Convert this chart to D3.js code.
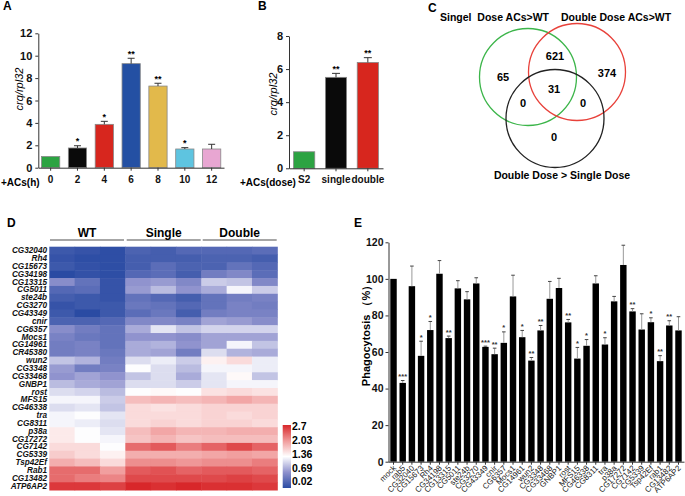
<!DOCTYPE html>
<html><head><meta charset="utf-8">
<script src="https://cdn.jsdelivr.net/npm/d3@7/dist/d3.min.js"></script>
<style>
body{margin:0;background:#fff;}
svg{display:block;font-family:"Liberation Sans Narrow","Liberation Sans",Arial,sans-serif;}
.wide{font-family:"Liberation Sans",Arial,sans-serif;}
</style></head><body><svg id="c" width="685" height="496"></svg>
<script>
// ---------- DATA ----------
const catsA = ["0","2","4","6","8","10","12"];
const valsA = [1.0,1.76,3.87,9.29,7.29,1.67,1.67];
const errA  = [0,0.2,0.27,0.48,0.25,0.12,0.42];
const sigA  = ["","*","*","**","**","*",""];
const colorsA = ["#2ca342","#0a0a0a","#d7261e","#2450a3","#e2b94b","#5ec4e0","#e8a6d2"];
const ticksA = [0,2,4,6,8,10,12];

const catsB = ["S2","single","double"];
const valsB = [1.0,5.5,6.4];
const errB  = [0,0.24,0.29];
const sigB  = ["","**","**"];
const colorsB = ["#2ca342","#0a0a0a","#d7261e"];
const ticksB = [0,2,4,6,8];

const vennSets = ["Singel  Dose ACs>WT","Double Dose ACs>WT","Double Dose > Single Dose"];
const vennColors = ["#3cb54a","#e8413a","#222222"];
const vennRegions = ["65","621","374","31","0","0","0"];

const genes = ["CG32040","Rh4","CG15673","CG34198","CG13315","CG5011","ste24b","CG3270","CG43349","cnir","CG6357","Mocs1","CG14961","CR45380","wun2","CG3348","CG33468","GNBP1","rost","MFS15","CG46338","tra","CG8311","p38a","CG17272","CG7142","CG5339","Tsp42Ef","Rab1","CG13482","ATP6AP2"];
const groups = ["WT","Single","Double"];
const heatWT = [[0.15,0.1,0.05],[0.1,0.05,0.05],[0.15,0.08,0.05],[0.02,0.08,0.05],[0.65,0.4,0.1],[0.3,0.35,0.1],[0.2,0.15,0.1],[0.1,0.15,0.15],[0.15,0.02,0.15],[0.25,0.25,0.3],[0.65,0.5,0.4],[0.55,0.45,0.4],[0.5,0.55,0.4],[0.5,0.55,0.45],[1.0,0.9,0.5],[0.75,0.5,0.55],[0.7,0.8,0.7],[0.95,0.85,0.8],[1.15,1.1,0.95],[1.3,1.3,1.05],[1.15,1.2,1.0],[1.3,1.35,1.2],[1.3,1.25,1.15],[1.5,1.35,1.2],[1.5,1.35,1.3],[1.6,1.6,1.35],[1.7,1.6,1.45],[1.9,1.8,1.6],[2.3,2.3,2.0],[2.3,2.2,2.15],[2.6,2.6,2.55]];
const heatSingle = [[0.25,0.2,0.3],[0.2,0.2,0.2],[0.2,0.35,0.25],[0.3,0.35,0.2],[0.7,0.75,0.6],[0.75,0.95,0.7],[0.4,0.3,0.2],[0.45,0.4,0.3],[0.35,0.45,0.2],[0.6,0.6,0.55],[0.85,1.2,1.0],[0.7,0.7,0.65],[0.85,0.9,0.7],[0.85,0.8,0.5],[1.15,1.25,1.05],[1.35,1.15,0.95],[1.0,1.15,0.85],[1.15,1.15,1.05],[1.35,1.4,1.35],[1.8,1.85,1.8],[1.6,1.55,1.6],[1.6,1.6,1.6],[1.6,1.65,1.6],[1.8,1.95,1.85],[1.75,1.85,1.75],[2.3,2.4,2.2],[1.9,1.9,1.9],[2.1,2.1,2.05],[2.4,2.45,2.35],[2.5,2.5,2.5],[2.7,2.65,2.7]];
const heatDouble = [[0.3,0.3,0.35],[0.25,0.25,0.2],[0.25,0.4,0.3],[0.5,0.6,0.35],[1.05,1.0,0.6],[0.85,1.3,1.05],[0.4,0.5,0.55],[0.4,0.55,0.5],[0.5,0.55,0.55],[0.8,0.75,0.65],[1.1,1.1,1.1],[0.8,0.8,0.8],[0.8,1.3,1.0],[1.15,0.9,0.85],[1.45,1.6,1.25],[1.3,1.3,1.25],[1.2,1.4,1.0],[1.2,1.3,1.3],[1.55,1.6,1.55],[1.85,1.95,1.85],[1.65,1.65,1.65],[1.65,1.6,1.65],[1.65,1.65,1.6],[1.85,1.9,1.9],[1.8,1.8,1.8],[2.35,2.5,2.35],[1.95,2.0,1.95],[2.1,2.1,2.2],[2.4,2.4,2.35],[2.5,2.55,2.5],[2.65,2.65,2.6]];
const colorbarTicks = ["2.7","2.03","1.36","0.69","0.02"];

const catsE = ["mock","rab5","CG32040","CG15673","Rh4","CG34198","CG13315","CG5011","ste24b","CG3270","CG43349","cnir","CG6357","Mocs1","CG14961","wun2","CG3348","CG33468","GNBP1","rost","MFS15","CG46338","CG8311","tra","p38a","CG17272","CG7142","CG5339","Tsp42Ef","rab1","CG13482","ATP6AP2"];
const valsE = [100,43.1,96,57.9,72,102.8,67.6,94.8,88.8,97.5,62.8,58.8,65,90.4,68.1,55.3,71.8,89.1,95,76.2,56.4,63.4,97.5,64.1,87.7,107.6,82.2,72.3,76.3,55,74.5,71.8];
const errTopE = [100,44.4,107,65.9,76.7,110,68.7,99,93,100.6,63.2,62.1,71,102,71.8,57,74.5,98.6,100.3,77.8,62.5,66.8,101.7,67.8,90.4,118.4,83.7,80.9,78.7,58,77.1,79.3];
const sigE = ["","***","","*","*","","**","","","","***","**","*","","*","**","**","","","**","*","*","","*","","","**","","*","**","**",""];
const ticksE = [0,20,40,60,80,100,120];

// ---------- DRAW ----------
const svg = d3.select("#c");

function panelLabel(t,x,y){ svg.append("text").attr("class","wide").attr("x",x).attr("y",y).attr("font-size",12).attr("font-weight","bold").text(t); }

function styleAxis(g,fs){
  g.selectAll("text").attr("font-size",fs).attr("font-weight","bold").attr("fill","#111");
  g.selectAll("path,line").attr("stroke","#333");
}

// Panel A
(function(){
  const y = d3.scaleLinear().domain([0,12]).range([167.7,33.3]);
  const x = d3.scaleBand().domain(catsA).range([38.3,224]).paddingInner(0.32).paddingOuter(0.12);
  const g = svg.append("g");
  g.selectAll("rect").data(catsA).join("rect")
    .attr("x",d=>x(d)).attr("width",x.bandwidth())
    .attr("y",(d,i)=>y(valsA[i])).attr("height",(d,i)=>y(0)-y(valsA[i]))
    .attr("fill",(d,i)=>colorsA[i]).attr("stroke","#888").attr("stroke-width",0.8);
  catsA.forEach((c,i)=>{
    if(errA[i]>0){
      const cx=x(c)+x.bandwidth()/2;
      g.append("line").attr("x1",cx).attr("x2",cx).attr("y1",y(valsA[i])).attr("y2",y(valsA[i]+errA[i])).attr("stroke","#333");
      g.append("line").attr("x1",cx-3.5).attr("x2",cx+3.5).attr("y1",y(valsA[i]+errA[i])).attr("y2",y(valsA[i]+errA[i])).attr("stroke","#333");
    }
    if(sigA[i]) g.append("text").attr("x",x(c)+x.bandwidth()/2).attr("y",y(valsA[i]+errA[i])-1.5).attr("text-anchor","middle").attr("font-size",9).attr("font-weight","bold").text(sigA[i]);
  });
  const ay = g.append("g").attr("transform","translate(38.3,0)").call(d3.axisLeft(y).tickValues(ticksA).tickSize(3).tickSizeOuter(0).tickFormat(d3.format("d")));
  styleAxis(ay,11);
  const ax = g.append("g").attr("transform","translate(0,167.7)").call(d3.axisBottom(x).tickSize(3).tickSizeOuter(0).tickPadding(5));
  styleAxis(ax,10);
  g.append("text").attr("x",1).attr("y",186).attr("font-size",10).attr("font-weight","bold").text("+ACs(h)");
  g.append("text").attr("transform","translate(23,89) rotate(-90)").attr("text-anchor","middle").attr("font-size",11).attr("font-style","italic").text("crq/rpl32");
  panelLabel("A",3,10);
})();

// Panel B
(function(){
  const y = d3.scaleLinear().domain([0,8]).range([168.3,36]);
  const x = d3.scaleBand().domain(catsB).range([289,383]).paddingInner(0.334).paddingOuter(0.143);
  const g = svg.append("g");
  g.selectAll("rect").data(catsB).join("rect")
    .attr("x",d=>x(d)).attr("width",x.bandwidth())
    .attr("y",(d,i)=>y(valsB[i])).attr("height",(d,i)=>y(0)-y(valsB[i]))
    .attr("fill",(d,i)=>colorsB[i]).attr("stroke","#888").attr("stroke-width",0.8);
  catsB.forEach((c,i)=>{
    if(errB[i]>0){
      const cx=x(c)+x.bandwidth()/2;
      g.append("line").attr("x1",cx).attr("x2",cx).attr("y1",y(valsB[i])).attr("y2",y(valsB[i]+errB[i])).attr("stroke","#333");
      g.append("line").attr("x1",cx-4).attr("x2",cx+4).attr("y1",y(valsB[i]+errB[i])).attr("y2",y(valsB[i]+errB[i])).attr("stroke","#333");
    }
    if(sigB[i]) g.append("text").attr("x",x(c)+x.bandwidth()/2).attr("y",y(valsB[i]+errB[i])-1.5).attr("text-anchor","middle").attr("font-size",9).attr("font-weight","bold").text(sigB[i]);
  });
  const ay = g.append("g").attr("transform","translate(289,0)").call(d3.axisLeft(y).tickValues(ticksB).tickSize(3).tickSizeOuter(0));
  styleAxis(ay,11);
  const ax = g.append("g").attr("transform","translate(0,168.3)").call(d3.axisBottom(x).tickSize(3).tickSizeOuter(0).tickPadding(5));
  styleAxis(ax,10);
  g.append("text").attr("x",240).attr("y",186).attr("font-size",10).attr("font-weight","bold").text("+ACs(dose)");
  g.append("text").attr("transform","translate(277,94) rotate(-90)").attr("text-anchor","middle").attr("font-size",11).attr("font-style","italic").text("crq/rpl32");
  panelLabel("B",258,10);
})();

// Panel C - Venn
(function(){
  const g = svg.append("g").attr("class","wide");
  const circles = [[528,77,48.5],[577,72,48.5],[555,118.5,49]];
  circles.forEach((c,i)=>g.append("circle").attr("cx",c[0]).attr("cy",c[1]).attr("r",c[2]).attr("fill","none").attr("stroke",vennColors[i]).attr("stroke-width",1.3));
  const pos = [[503,77],[555,56],[607,73],[554,89],[523,103],[583,103],[554,137]];
  vennRegions.forEach((t,i)=>g.append("text").attr("x",pos[i][0]).attr("y",pos[i][1]).attr("dy","0.35em").attr("text-anchor","middle").attr("font-size",11).attr("font-weight","bold").text(t));
  g.append("text").attr("x",440).attr("y",21).attr("font-size",10.5).attr("font-weight","bold").style("white-space","pre").text(vennSets[0]);
  g.append("text").attr("x",561).attr("y",21).attr("font-size",10.5).attr("font-weight","bold").text(vennSets[1]);
  g.append("text").attr("x",562).attr("y",179).attr("text-anchor","middle").attr("font-size",10.5).attr("font-weight","bold").text(vennSets[2]);
  panelLabel("C",428,12);
})();

// Panel D - heatmap
(function(){
  const g = svg.append("g");
  const cols = [];
  groups.forEach(gr=>[1,2,3].forEach(k=>cols.push(gr+k)));
  const x = d3.scaleBand().domain(cols).range([49.3,277.3]);
  const y = d3.scaleBand().domain(genes).range([246.7,490]);
  const color = d3.scaleLinear().domain([0.02,0.69,1.36,2.03,2.7]).range(["#2a4ba3","#8e91cd","#ffffff","#f09a9a","#d8272a"]);
  const mats = [heatWT,heatSingle,heatDouble];
  genes.forEach((gn,r)=>{
    mats.forEach((m,gi)=>m[r].forEach((v,k)=>{
      g.append("rect").attr("x",x(cols[gi*3+k])).attr("y",y(gn)).attr("width",x.bandwidth()+0.5).attr("height",y.bandwidth()+0.5).attr("fill",color(v));
    }));
  });
  const ay = g.append("g").attr("transform","translate(49,0)").call(d3.axisLeft(y).tickSize(0).tickPadding(2));
  ay.select(".domain").remove();
  ay.selectAll("text").attr("font-size",8.2).attr("font-weight","bold").attr("font-style","italic").attr("fill","#111");
  const hx = [[50,124],[126.7,200.7],[202.7,276.7]];
  groups.forEach((gr,i)=>{
    g.append("line").attr("x1",hx[i][0]).attr("x2",hx[i][1]).attr("y1",240).attr("y2",240).attr("stroke","#888").attr("stroke-width",1.4);
    g.append("text").attr("x",(hx[i][0]+hx[i][1])/2).attr("y",237).attr("text-anchor","middle").attr("font-size",12).attr("font-weight","bold").text(gr);
  });
  const defs = svg.append("defs");
  const lg = defs.append("linearGradient").attr("id","cb").attr("x1",0).attr("x2",0).attr("y1",1).attr("y2",0);
  [0,0.25,0.5,0.75,1].forEach(t=>lg.append("stop").attr("offset",t).attr("stop-color",color(0.02+t*2.68)));
  g.append("rect").attr("x",282.7).attr("y",425).attr("width",8.3).attr("height",63).attr("fill","url(#cb)");
  const cy = d3.scaleLinear().domain([2.7,0.02]).range([426.7,481.7]);
  colorbarTicks.forEach(t=>g.append("text").attr("x",292).attr("y",cy(+t)).attr("dy","0.35em").attr("font-size",10.5).attr("font-weight","bold").text(t));
  panelLabel("D",7,227);
})();

// Panel E
(function(){
  const g = svg.append("g");
  const y = d3.scaleLinear().domain([0,120]).range([461.7,242.3]);
  const x = d3.scaleBand().domain(catsE).range([388,684]).paddingInner(0.3).paddingOuter(0.25);
  g.selectAll("rect").data(catsE).join("rect")
    .attr("x",d=>x(d)).attr("width",x.bandwidth())
    .attr("y",(d,i)=>y(valsE[i])).attr("height",(d,i)=>y(0)-y(valsE[i])).attr("fill","#000");
  catsE.forEach((c,i)=>{
    const cx=x(c)+x.bandwidth()/2;
    if(errTopE[i]>valsE[i]){
      g.append("line").attr("x1",cx).attr("x2",cx).attr("y1",y(valsE[i])).attr("y2",y(errTopE[i])).attr("stroke","#999").attr("stroke-width",1);
      g.append("line").attr("x1",cx-1.8).attr("x2",cx+1.8).attr("y1",y(errTopE[i])).attr("y2",y(errTopE[i])).attr("stroke","#444").attr("stroke-width",1);
    }
    if(sigE[i]) g.append("text").attr("x",cx).attr("y",y(errTopE[i])-1.5).attr("text-anchor","middle").attr("font-size",7.5).attr("font-weight","bold").attr("fill","#333").text(sigE[i]);
  });
  const ay = g.append("g").attr("transform","translate(388.5,0)").call(d3.axisLeft(y).tickValues(ticksE).tickSize(3).tickSizeOuter(0).tickPadding(2));
  styleAxis(ay,10.5);
  const ax = g.append("g").attr("transform","translate(0,461.7)").call(d3.axisBottom(x).tickSize(3).tickSizeOuter(0));
  styleAxis(ax,8);
  ax.selectAll("text").attr("class","wide").attr("font-weight","normal").attr("fill","#222").attr("x",0).attr("y",0).attr("dy",0)
    .attr("text-anchor","end").attr("transform","translate(3,7) rotate(-45)");
  g.append("text").attr("transform","translate(370,333) rotate(-90)").attr("text-anchor","middle").attr("font-size",11).attr("font-weight","bold").text("Phagocytosis （%）");
  panelLabel("E",354,227);
})();
</script></body></html>
